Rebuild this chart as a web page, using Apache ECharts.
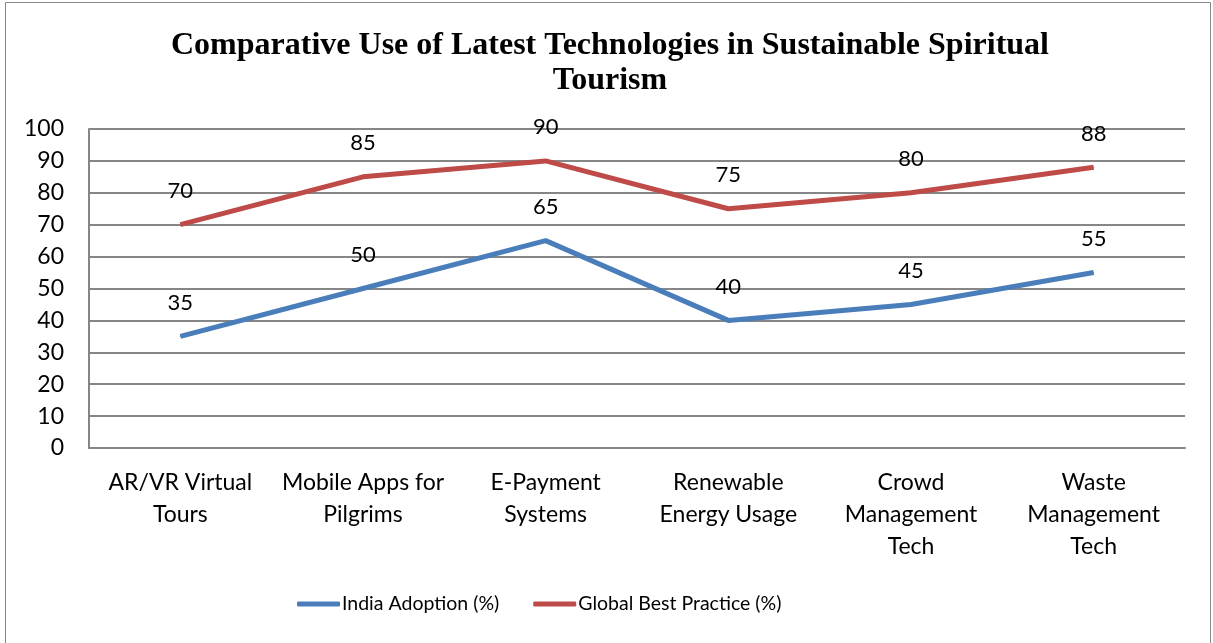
<!DOCTYPE html>
<html>
<head>
<meta charset="utf-8">
<script src="https://cdn.jsdelivr.net/npm/echarts@6/dist/echarts.min.js"></script>
<style>
html,body{margin:0;padding:0;background:#fff;}
#c{width:1213px;height:643px;}
</style>
</head>
<body>
<div id="c"></div>
<script>
var categories = ["AR/VR Virtual\nTours", "Mobile Apps for\nPilgrims", "E-Payment\nSystems", "Renewable\nEnergy Usage", "Crowd\nManagement\nTech", "Waste\nManagement\nTech"];
var indiaAdoption = [35, 50, 65, 40, 45, 55];
var globalBest = [70, 85, 90, 75, 80, 88];
var seriesNames = ["India Adoption (%)", "Global Best Practice (%)"];
var titleText = "Comparative Use of Latest Technologies in Sustainable Spiritual\nTourism";

var FONT = "Lato, 'Open Sans', sans-serif";
var chart = echarts.init(document.getElementById('c'), null, {renderer: 'canvas'});
function lineSeries(name, data, color) {
  return {
    name: name, type: 'line', data: data,
    showSymbol: true, symbol: 'circle', symbolSize: 1,
    itemStyle: {color: color},
    lineStyle: {color: color, width: 5},
    label: {show: true, position: 'top', distance: 22, color: '#000', fontSize: 22, fontFamily: FONT},
    emphasis: {disabled: true},
    animation: false
  };
}
chart.setOption({
  animation: false,
  backgroundColor: '#fff',
  graphic: [{type: 'rect', shape: {x: 5.5, y: 2.5, width: 1205, height: 700}, style: {fill: 'none', stroke: '#888', lineWidth: 1}, silent: true}],
  title: {
    text: titleText, left: 605, top: 23, textAlign: 'center',
    textStyle: {fontFamily: "'Liberation Serif', 'Times New Roman', serif", fontWeight: 'bold', fontSize: 32, lineHeight: 35, color: '#000'}
  },
  legend: {
    data: [{name: seriesNames[0], icon: 'roundRect'}, {name: seriesNames[1], icon: 'roundRect'}],
    bottom: 24, left: 292, itemWidth: 43, itemHeight: 5, itemGap: 34,
    textStyle: {fontFamily: FONT, fontSize: 19.5, color: '#000', padding: [0, 0, 0, -3]}
  },
  grid: {left: 89, right: 28, top: 129, bottom: 195, containLabel: false},
  xAxis: {
    type: 'category', data: categories, boundaryGap: true,
    axisLine: {show: true, lineStyle: {color: '#868686', width: 2}},
    axisTick: {show: false},
    axisLabel: {interval: 0, margin: 19, fontFamily: FONT, fontSize: 23, lineHeight: 32, color: '#000'}
  },
  yAxis: {
    type: 'value', min: 0, max: 100, interval: 10,
    axisLine: {show: true, lineStyle: {color: '#868686', width: 2}},
    axisTick: {show: false},
    splitLine: {show: true, lineStyle: {color: '#868686', width: 2}},
    axisLabel: {margin: 25, fontFamily: FONT, fontSize: 23, color: '#000'}
  },
  series: [
    lineSeries(seriesNames[0], indiaAdoption, '#4a7ebb'),
    lineSeries(seriesNames[1], globalBest, '#be4b48')
  ]
});
</script>
</body>
</html>
